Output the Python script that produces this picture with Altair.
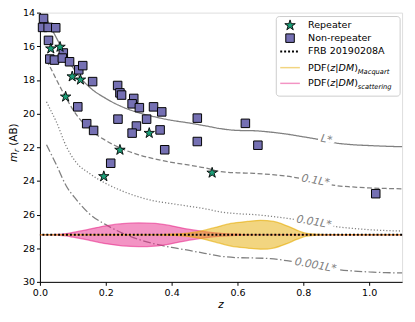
import altair as alt
import pandas as pd

# ---------------- data ----------------
rep_z = [0.033, 0.061, 0.098, 0.123, 0.078, 0.243, 0.332, 0.194, 0.523]
rep_m = [16.14, 16.04, 17.80, 17.99, 19.00, 22.16, 21.16, 23.73, 23.52]

non_z = [0.011, 0.008, 0.025, 0.048, 0.026, 0.030, 0.044, 0.071, 0.068, 0.090,
         0.118, 0.130, 0.160, 0.115, 0.142, 0.163, 0.236, 0.243, 0.248, 0.237,
         0.285, 0.280, 0.302, 0.293, 0.280, 0.324, 0.345, 0.370, 0.365, 0.379,
         0.215, 0.478, 0.478, 0.624, 0.662, 1.020]
non_m = [14.35, 14.88, 14.88, 14.90, 15.65, 16.76, 16.82, 16.40, 16.70, 16.92,
         17.40, 17.15, 18.10, 19.60, 20.60, 21.00, 18.33, 18.77, 18.90, 20.33,
         19.10, 19.42, 19.65, 20.74, 21.16, 20.33, 19.60, 19.90, 20.97, 22.15,
         22.95, 20.27, 21.66, 20.58, 21.88, 24.76]

curve_z = [0.02, 0.03, 0.05, 0.08, 0.11, 0.15, 0.20, 0.25, 0.30, 0.35, 0.40, 0.45,
           0.50, 0.55, 0.60, 0.65, 0.70, 0.75, 0.80, 0.85, 0.90, 0.95, 1.00, 1.05, 1.10]
lstar_m = [14.35, 14.75, 15.50, 16.60, 17.55, 18.42, 19.10, 19.60, 19.95, 20.20, 20.40, 20.55,
           20.72, 20.90, 21.00, 21.02, 21.10, 21.22, 21.38, 21.55, 21.75, 21.85, 21.90, 21.94, 21.97]
l01_m = [16.85, 17.20, 17.98, 19.10, 20.05, 20.92, 21.60, 22.10, 22.45, 22.70, 22.90, 23.05,
         23.22, 23.45, 23.52, 23.55, 23.62, 23.72, 23.88, 24.08, 24.28, 24.36, 24.42, 24.45, 24.47]
l001_m = [19.30, 19.70, 20.50, 21.95, 22.90, 23.55, 24.15, 24.60, 24.95, 25.20, 25.35, 25.50,
          25.65, 25.85, 25.95, 26.00, 26.10, 26.22, 26.38, 26.55, 26.72, 26.82, 26.90, 26.95, 26.98]
l0001_m = [21.85, 22.25, 23.05, 24.30, 25.10, 25.95, 26.60, 27.10, 27.48, 27.75, 27.95, 28.12,
           28.30, 28.48, 28.56, 28.58, 28.62, 28.74, 28.90, 29.07, 29.25, 29.35, 29.41, 29.45, 29.47]

curve_names = ["L*", "0.1L*", "0.01L*", "0.001L*"]
label_z = [0.870, 0.837, 0.832, 0.837]
label_m = [21.55, 23.99, 26.46, 29.03]

frb_m = 27.2

scat_z = [0.00, 0.02, 0.05, 0.08, 0.10, 0.15, 0.20, 0.25, 0.30, 0.35, 0.40, 0.45,
          0.50, 0.55, 0.60, 0.65, 1.10]
scat_hw = [0.00, 0.00, 0.02, 0.07, 0.14, 0.33, 0.53, 0.66, 0.70, 0.67, 0.53, 0.33,
           0.18, 0.08, 0.03, 0.00, 0.00]
macq_z = [0.00, 0.35, 0.40, 0.45, 0.48, 0.53, 0.58, 0.63, 0.67, 0.71, 0.75, 0.78,
          0.81, 0.85, 0.88, 1.10]
macq_hw = [0.00, 0.00, 0.03, 0.09, 0.18, 0.42, 0.67, 0.79, 0.86, 0.79, 0.53, 0.28,
           0.08, 0.02, 0.00, 0.00]

x_ticks = [0.0, 0.2, 0.4, 0.6, 0.8, 1.0]
y_ticks = [14, 16, 18, 20, 22, 24, 26, 28, 30]

# ---------------- styling ----------------
FONT = "DejaVu Sans"
W, H = 368.5, 274
GREEN, PURPLE = "#1b9e77", "#7570b3"
PINK, GOLD = "#e7298a", "#e6ab02"
GREY = "#808080"
STAR = ("M0,-1L0.2245,-0.309L0.951,-0.309L0.363,0.118L0.588,0.809L0,0.382"
        "L-0.588,0.809L-0.363,0.118L-0.951,-0.309L-0.2245,-0.309Z")
BOX = "M-1,-0.3L1,-0.3L1,0.3L-1,0.3Z"

xs = alt.Scale(domain=[0, 1.1], nice=False, zero=False)
ys = alt.Scale(domain=[14, 30], nice=False, zero=False, reverse=True)
axis_common = dict(grid=False, title=None, tickSize=3.5, labelFontSize=9.7, labelFont=FONT,
                   labelColor="black", domainColor="black", tickColor="black",
                   labelPadding=2, labelFlush=False, domainWidth=1, tickWidth=1)
xa = alt.Axis(values=x_ticks, format=".1f", **axis_common)
ya = alt.Axis(values=y_ticks, format="d", **axis_common)


def X(f):
    return alt.X(f"{f}:Q", scale=xs, axis=xa)


def Y(f):
    return alt.Y(f"{f}:Q", scale=ys, axis=ya)


layers = []

# luminosity curves
dashes = {"L*": [1, 0], "0.1L*": [5, 2.5], "0.01L*": [1.2, 2], "0.001L*": [8, 2.5, 1.5, 2.5]}
for name, vals in zip(curve_names, [lstar_m, l01_m, l001_m, l0001_m]):
    df = pd.DataFrame({"z": curve_z, "m": vals})
    layers.append(alt.Chart(df).mark_line(color=GREY, strokeWidth=1.3, strokeDash=dashes[name],
                                          interpolate="monotone")
                  .encode(x=X("z"), y=Y("m")))

# inline curve labels
lab = pd.DataFrame({"z": label_z, "m": label_m, "t": curve_names,
                    "bs": [17 ** 2, 34 ** 2, 41 ** 2, 48 ** 2]})
layers.append(alt.Chart(lab).mark_point(shape=BOX, filled=True, fill="white", opacity=1,
                                        strokeWidth=0, angle=10)
              .encode(x=X("z"), y=Y("m"), size=alt.Size("bs:Q", scale=None, legend=None)))
layers.append(alt.Chart(lab).mark_text(font=FONT, fontStyle="italic", fontSize=11, color=GREY,
                                       angle=10, align="center", baseline="middle")
              .encode(x=X("z"), y=Y("m"), text="t:N"))

# PDFs
for zz, hw, col in [(scat_z, scat_hw, PINK), (macq_z, macq_hw, GOLD)]:
    df = pd.DataFrame({"z": zz, "lo": [frb_m - h for h in hw], "hi": [frb_m + h for h in hw]})
    layers.append(alt.Chart(df).mark_area(orient="vertical", interpolate="monotone", fill=col,
                                          fillOpacity=0.5, stroke=col, strokeOpacity=0.6,
                                          strokeWidth=1.3)
                  .encode(x=X("z"), y=Y("lo"), y2="hi:Q"))

# FRB line
layers.append(alt.Chart(pd.DataFrame({"m": [frb_m]}))
              .mark_rule(color="black", strokeDash=[2, 2], strokeWidth=2)
              .encode(y=Y("m")))

# points
layers.append(alt.Chart(pd.DataFrame({"z": non_z, "m": non_m}))
              .mark_point(shape="square", filled=True, size=75, fill=PURPLE, stroke="black",
                          strokeWidth=1, opacity=1)
              .encode(x=X("z"), y=Y("m")))
layers.append(alt.Chart(pd.DataFrame({"z": rep_z, "m": rep_m}))
              .mark_point(shape=STAR, filled=True, size=125, fill=GREEN, stroke="black",
                          strokeWidth=0.9, opacity=1)
              .encode(x=X("z"), y=Y("m")))

# ---------------- manual legend / titles (pixel positions) ----------------
one = pd.DataFrame({"a": [0]})


def txt(s, x, y, size=9.7, italic=False, angle=0, align="left", color="black"):
    kw = dict(font=FONT, fontSize=size, color=color, align=align, baseline="middle", text=s)
    if italic:
        kw["fontStyle"] = "italic"
    if angle:
        kw["angle"] = angle
    return alt.Chart(one).mark_text(**kw).encode(x=alt.value(x), y=alt.value(y))


layers.append(alt.Chart(one).mark_rect(fill="white", fillOpacity=0.8, stroke="#cccccc",
                                       strokeWidth=1, cornerRadius=3)
              .encode(x=alt.value(240.5), x2=alt.value(366.5), y=alt.value(4), y2=alt.value(85)))
SX, TX = 254.5, 272.8
rows = [13, 26, 39.5, 56, 72]
layers.append(alt.Chart(one).mark_point(shape=STAR, filled=True, size=125, fill=GREEN,
                                        stroke="black", strokeWidth=0.9, opacity=1)
              .encode(x=alt.value(SX), y=alt.value(rows[0])))
layers.append(alt.Chart(one).mark_point(shape="square", filled=True, size=75, fill=PURPLE,
                                        stroke="black", strokeWidth=1, opacity=1)
              .encode(x=alt.value(SX), y=alt.value(rows[1])))
layers.append(alt.Chart(one).mark_rule(color="black", strokeDash=[2, 2], strokeWidth=2)
              .encode(x=alt.value(244.5), x2=alt.value(264.5), y=alt.value(rows[2])))
layers.append(alt.Chart(one).mark_rule(color="#f2d580", strokeWidth=1.5)
              .encode(x=alt.value(244.5), x2=alt.value(264.5), y=alt.value(rows[3])))
layers.append(alt.Chart(one).mark_rule(color="#f394c4", strokeWidth=1.5)
              .encode(x=alt.value(244.5), x2=alt.value(264.5), y=alt.value(rows[4])))
layers.append(txt("Repeater", TX, rows[0]))
layers.append(txt("Non-repeater", TX, rows[1]))
layers.append(txt("FRB 20190208A", TX, rows[2]))
for r, sub in [(rows[3], "Macquart"), (rows[4], "scattering")]:
    layers.append(txt("PDF(", TX, r))
    layers.append(txt("z", TX + 22.7, r, italic=True))
    layers.append(txt("|", TX + 27.8, r))
    layers.append(txt("DM", TX + 31.1, r, italic=True))
    layers.append(txt(")", TX + 46.9, r))
    layers.append(txt(sub, TX + 50.7, r + 4, size=6.8, italic=True))

# axis titles
layers.append(txt("z", 184.2, 298, size=10.5, italic=True, align="center"))
layers.append(txt("m", -26, 152, size=10.5, italic=True, angle=270))
layers.append(txt("r", -23, 141.8, size=7.5, italic=True, angle=270))
layers.append(txt("(AB)", -26, 135.4, size=10.5, angle=270))

chart = (alt.layer(*layers)
         .properties(width=W, height=H,
                     padding={"left": 32.5, "top": 2, "right": 5, "bottom": 30},
                     autosize=alt.AutoSizeParams(type="none"))
         .configure_view(stroke="black", strokeWidth=1)
         .configure(font=FONT))

chart.save("out.html", embed_options={"renderer": "svg", "actions": False})
